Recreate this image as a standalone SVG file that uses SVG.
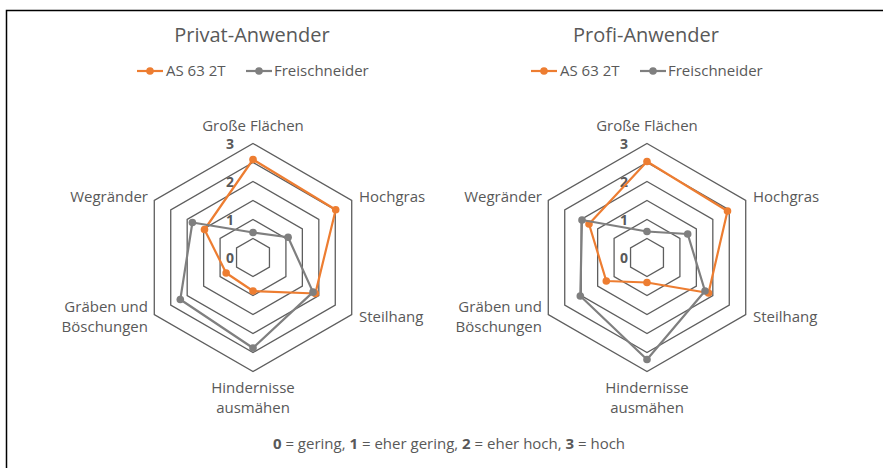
<svg xmlns="http://www.w3.org/2000/svg" xmlns:xlink="http://www.w3.org/1999/xlink" width="883" height="468" viewBox="0 0 883 468">
<style>
  text { font-family: "Open Sans", "Liberation Sans", sans-serif; fill: #595959; }
  .title { font-size: 20px; text-anchor: middle; }
  .leg { font-size: 15px; }
  .cat { font-size: 15px; }
  .mid { text-anchor: middle; }
  .end { text-anchor: end; }
  .ax { font-size: 14px; font-weight: bold; text-anchor: end; }
  .cap { font-size: 15px; text-anchor: middle; }
  .grid { fill: none; stroke: #5e5e5e; stroke-width: 1.3; }
  .so { fill: none; stroke: #ED7D31; stroke-width: 2.2; stroke-linejoin: round; }
  .sg { fill: none; stroke: #7F7F7F; stroke-width: 2.2; stroke-linejoin: round; }
  .mo { fill: #ED7D31; }
  .mg { fill: #7F7F7F; }
  .frame { fill: none; stroke: #000; stroke-width: 1.5; }
</style>
<defs>
  <g id="rings">
    <polygon class="grid" points="0,-19 16.45,-9.5 16.45,9.5 0,19 -16.45,9.5 -16.45,-9.5"/>
    <polygon class="grid" points="0,-38 32.91,-19 32.91,19 0,38 -32.91,19 -32.91,-19"/>
    <polygon class="grid" points="0,-57 49.36,-28.5 49.36,28.5 0,57 -49.36,28.5 -49.36,-28.5"/>
    <polygon class="grid" points="0,-76 65.82,-38 65.82,38 0,76 -65.82,38 -65.82,-38"/>
    <polygon class="grid" points="0,-95 82.27,-47.5 82.27,47.5 0,95 -82.27,47.5 -82.27,-47.5"/>
    <polygon class="grid" points="0,-114 98.72,-57 98.72,57 0,114 -98.72,57 -98.72,-57"/>
  </g>
  <g id="axlabels">
    <text class="ax" x="-19" y="5">0</text>
    <text class="ax" x="-19" y="-33">1</text>
    <text class="ax" x="-19" y="-71">2</text>
    <text class="ax" x="-19" y="-109">3</text>
  </g>
</defs>
<rect width="883" height="468" fill="#ffffff"/>
<path class="frame" d="M6.5,468 V10.5 H883"/>

<!-- Left chart: Privat-Anwender -->
<g id="chart-privat" transform="translate(253,257.5)">
  <text class="title" x="-1" y="-215.5">Privat-Anwender</text>
  <g id="legend-privat">
    <line x1="-116" y1="-186.5" x2="-90" y2="-186.5" stroke="#ED7D31" stroke-width="2.2"/>
    <circle class="mo" cx="-103" cy="-186.5" r="3.8"/>
    <text class="leg" x="-87" y="-181.5">AS 63 2T</text>
    <line x1="-7" y1="-186.5" x2="19" y2="-186.5" stroke="#7F7F7F" stroke-width="2.2"/>
    <circle class="mg" cx="6" cy="-186.5" r="3.8"/>
    <text class="leg" x="21" y="-181.5">Freischneider</text>
  </g>
  <use xlink:href="#rings"/>
  <use xlink:href="#axlabels"/>
  <g id="series-privat">
    <polygon class="so" points="0,-98 82.7,-47.75 62.35,36 0,33.5 -26.85,15.5 -48.5,-28"/>
    <g class="mo">
      <circle cx="0" cy="-98" r="3.8"/><circle cx="82.7" cy="-47.75" r="3.8"/><circle cx="62.35" cy="36" r="3.8"/>
      <circle cx="0" cy="33.5" r="3.8"/><circle cx="-26.85" cy="15.5" r="3.8"/><circle cx="-48.5" cy="-28" r="3.8"/>
    </g>
    <polygon class="sg" points="0,-25 35.1,-20.25 60,34.65 0,90.5 -72.7,42 -60.6,-35"/>
    <g class="mg">
      <circle cx="0" cy="-25" r="3.8"/><circle cx="35.1" cy="-20.25" r="3.8"/><circle cx="60" cy="34.65" r="3.8"/>
      <circle cx="0" cy="90.5" r="3.8"/><circle cx="-72.7" cy="42" r="3.8"/><circle cx="-60.6" cy="-35" r="3.8"/>
    </g>
  </g>
  <g id="cats-privat">
    <text class="cat mid" x="0" y="-126.5">Große Flächen</text>
    <text class="cat" x="106" y="-55.5">Hochgras</text>
    <text class="cat" x="106" y="64.5">Steilhang</text>
    <text class="cat mid" x="0" y="135.5">Hindernisse</text>
    <text class="cat mid" x="0" y="155.5">ausmähen</text>
    <text class="cat end" x="-105" y="54.5">Gräben und</text>
    <text class="cat end" x="-105" y="74.5">Böschungen</text>
    <text class="cat end" x="-105" y="-55.5">Wegränder</text>
  </g>
</g>

<!-- Right chart: Profi-Anwender -->
<g id="chart-profi" transform="translate(647,257.5)">
  <text class="title" x="-1" y="-215.5">Profi-Anwender</text>
  <g id="legend-profi">
    <line x1="-116" y1="-186.5" x2="-90" y2="-186.5" stroke="#ED7D31" stroke-width="2.2"/>
    <circle class="mo" cx="-103" cy="-186.5" r="3.8"/>
    <text class="leg" x="-87" y="-181.5">AS 63 2T</text>
    <line x1="-7" y1="-186.5" x2="19" y2="-186.5" stroke="#7F7F7F" stroke-width="2.2"/>
    <circle class="mg" cx="6" cy="-186.5" r="3.8"/>
    <text class="leg" x="21" y="-181.5">Freischneider</text>
  </g>
  <use xlink:href="#rings"/>
  <use xlink:href="#axlabels"/>
  <g id="series-profi">
    <polygon class="so" points="0,-96 80.5,-46.5 61.5,35.5 0,25 -40.7,23.5 -58,-33.5"/>
    <g class="mo">
      <circle cx="0" cy="-96" r="3.8"/><circle cx="80.5" cy="-46.5" r="3.8"/><circle cx="61.5" cy="35.5" r="3.8"/>
      <circle cx="0" cy="25" r="3.8"/><circle cx="-40.7" cy="23.5" r="3.8"/><circle cx="-58" cy="-33.5" r="3.8"/>
    </g>
    <polygon class="sg" points="0,-26 40.7,-23.5 58,33.5 0,102 -66.7,38.5 -65,-37.5"/>
    <g class="mg">
      <circle cx="0" cy="-26" r="3.8"/><circle cx="40.7" cy="-23.5" r="3.8"/><circle cx="58" cy="33.5" r="3.8"/>
      <circle cx="0" cy="102" r="3.8"/><circle cx="-66.7" cy="38.5" r="3.8"/><circle cx="-65" cy="-37.5" r="3.8"/>
    </g>
  </g>
  <g id="cats-profi">
    <text class="cat mid" x="0" y="-126.5">Große Flächen</text>
    <text class="cat" x="106" y="-55.5">Hochgras</text>
    <text class="cat" x="106" y="64.5">Steilhang</text>
    <text class="cat mid" x="0" y="135.5">Hindernisse</text>
    <text class="cat mid" x="0" y="155.5">ausmähen</text>
    <text class="cat end" x="-105" y="54.5">Gräben und</text>
    <text class="cat end" x="-105" y="74.5">Böschungen</text>
    <text class="cat end" x="-105" y="-55.5">Wegränder</text>
  </g>
</g>

<text id="caption" class="cap" x="449" y="449"><tspan font-weight="bold">0</tspan> = gering, <tspan font-weight="bold">1</tspan> = eher gering, <tspan font-weight="bold">2</tspan> = eher hoch, <tspan font-weight="bold">3</tspan> = hoch</text>
</svg>
